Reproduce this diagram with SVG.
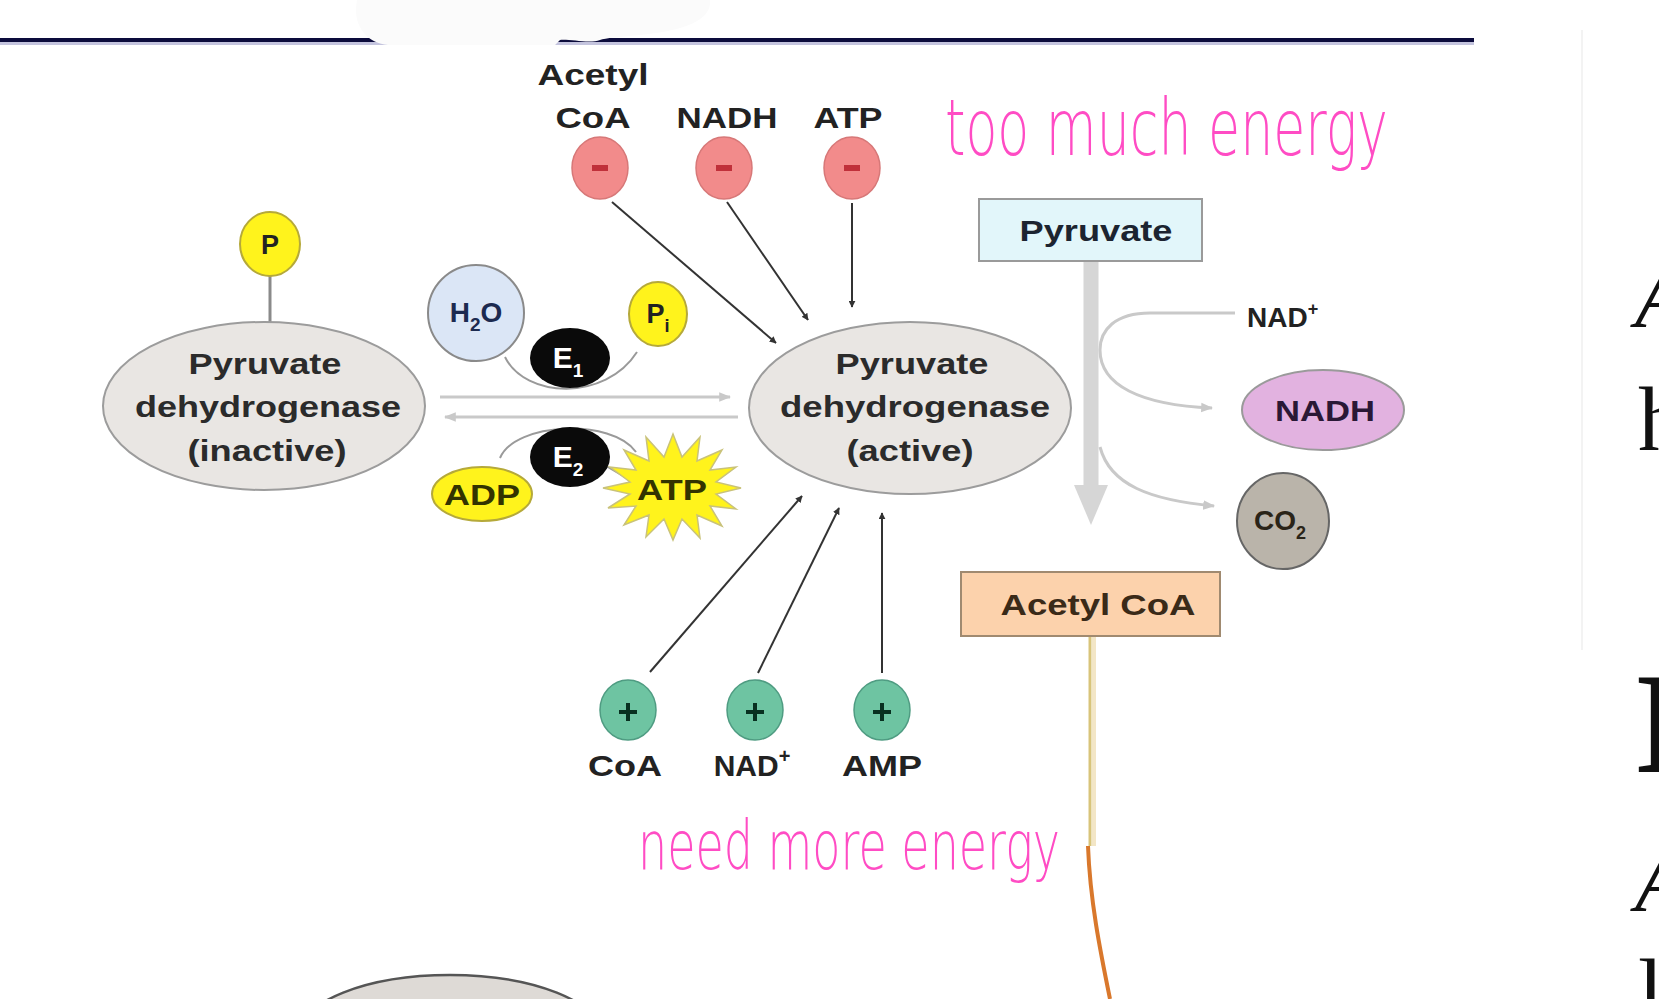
<svg xmlns="http://www.w3.org/2000/svg" width="1659" height="999" viewBox="0 0 1659 999">
<defs>
<style>
.lbl{font-family:"Liberation Sans",Arial,sans-serif;font-weight:bold;fill:#222;text-anchor:middle}
.enz{font-family:"Liberation Sans",Arial,sans-serif;font-weight:bold;fill:#2b2b2b;font-size:30px;text-anchor:middle}
.hand{font-family:"DejaVu Sans ExtraLight","DejaVu Sans",sans-serif;font-weight:200;fill:#ff4cc4}
.serif{font-family:"Liberation Serif","Times New Roman",serif;fill:#111}
.dark{stroke:#333;stroke-width:2;fill:none}
.pale{stroke:#c9c9c9;stroke-width:3;fill:none}
.minus{fill:#f28b8b;stroke:#d77878;stroke-width:1.5}
.plus{fill:#6ec4a2;stroke:#4f9c82;stroke-width:1.5}
.yel{fill:#fff31c;stroke:#b5a93a;stroke-width:2}
</style>
<marker id="ah" viewBox="0 0 10 10" refX="9" refY="5" markerWidth="7" markerHeight="7" orient="auto" markerUnits="userSpaceOnUse">
<path d="M0,0 L10,5 L0,10 Z" fill="#333"/>
</marker>
<marker id="ahp" viewBox="0 0 10 10" refX="9" refY="5" markerWidth="12" markerHeight="12" orient="auto" markerUnits="userSpaceOnUse">
<path d="M0,1 L10,5 L0,9 Z" fill="#c9c9c9"/>
</marker>
</defs>
<rect width="1659" height="999" fill="#ffffff"/>

<!-- slide header line -->
<g id="header">
<rect x="0" y="38" width="1474" height="4" fill="#0c0c3c"/>
<rect x="0" y="42" width="1474" height="3" fill="#c4c4de"/>
<path d="M357 0 L710 0 C712 18 690 30 640 35 C620 37 605 38 600 40 C590 44 570 39 560 40 L555 45 L388 45 C366 43 352 25 357 0 Z" fill="#fbfbfb"/>
<line x1="1582" y1="30" x2="1582" y2="650" stroke="#f3f3f3" stroke-width="2"/>
</g>

<!-- connectors -->
<g id="connectors">
<line x1="270" y1="276" x2="270" y2="322" stroke="#8a8a8a" stroke-width="3"/>
<line x1="612" y1="202" x2="776" y2="343" class="dark" marker-end="url(#ah)"/>
<line x1="727" y1="202" x2="808" y2="320" class="dark" marker-end="url(#ah)"/>
<line x1="852" y1="203" x2="852" y2="307" class="dark" marker-end="url(#ah)"/>
<line x1="650" y1="672" x2="802" y2="496" class="dark" marker-end="url(#ah)"/>
<line x1="758" y1="673" x2="839" y2="508" class="dark" marker-end="url(#ah)"/>
<line x1="882" y1="673" x2="882" y2="513" class="dark" marker-end="url(#ah)"/>
<line x1="440" y1="397" x2="730" y2="397" class="pale" marker-end="url(#ahp)"/>
<line x1="738" y1="417" x2="445" y2="417" class="pale" marker-end="url(#ahp)"/>
<path d="M505 357 C525 398 605 402 637 352" stroke="#9a9a9a" stroke-width="2" fill="none"/>
<path d="M500 458 C515 422 612 418 636 452" stroke="#9a9a9a" stroke-width="2" fill="none"/>
<line x1="606" y1="466" x2="630" y2="480" stroke="#9a9a9a" stroke-width="2"/>
<line x1="1091" y1="261" x2="1091" y2="490" stroke="#d6d6d6" stroke-width="15"/>
<polygon points="1074,485 1108,485 1091,525" fill="#d6d6d6"/>
<path d="M1235 313 L1150 313 C1115 313 1100 330 1100 350 C1100 385 1140 405 1212 408" class="pale" marker-end="url(#ahp)"/>
<path d="M1100 447 C1110 485 1150 500 1214 506" class="pale" marker-end="url(#ahp)"/>
<line x1="1094" y1="636" x2="1094" y2="846" stroke="#f3e6c6" stroke-width="4"/>
<line x1="1090" y1="636" x2="1090" y2="846" stroke="#d8c47a" stroke-width="3"/>
<path d="M1088 846 C1090 900 1100 950 1110 999" stroke="#d9782c" stroke-width="4" fill="none"/>
</g>

<g id="phosphate">
<ellipse cx="270" cy="244" rx="30" ry="32" class="yel"/>
<text x="270" y="254" class="lbl" font-size="27">P</text>
</g>

<g id="pdh-inactive">
<ellipse cx="264" cy="406" rx="161" ry="84" fill="#e9e6e3" stroke="#9c9c9c" stroke-width="2"/>
<text x="265" y="374" class="enz" textLength="153" lengthAdjust="spacingAndGlyphs">Pyruvate</text>
<text x="268" y="417" class="enz" textLength="266" lengthAdjust="spacingAndGlyphs">dehydrogenase</text>
<text x="267" y="461" class="enz" textLength="159" lengthAdjust="spacingAndGlyphs">(inactive)</text>
</g>

<g id="pdh-active">
<ellipse cx="910" cy="408" rx="161" ry="86" fill="#e9e6e3" stroke="#9c9c9c" stroke-width="2"/>
<text x="912" y="374" class="enz" textLength="153" lengthAdjust="spacingAndGlyphs">Pyruvate</text>
<text x="915" y="417" class="enz" textLength="270" lengthAdjust="spacingAndGlyphs">dehydrogenase</text>
<text x="910" y="461" class="enz" textLength="127" lengthAdjust="spacingAndGlyphs">(active)</text>
</g>

<g id="h2o">
<circle cx="476" cy="313" r="48" fill="#dbe6f6" stroke="#8a8a8a" stroke-width="2"/>
<text x="476" y="322" class="lbl" font-size="28" style="fill:#1c2a50">H<tspan font-size="19" dy="9">2</tspan><tspan dy="-9">O</tspan></text>
</g>

<g id="pi">
<ellipse cx="658" cy="314" rx="29" ry="32" class="yel"/>
<text x="658" y="323" class="lbl" font-size="27">P<tspan font-size="18" dy="9">i</tspan></text>
</g>

<g id="e1">
<ellipse cx="570" cy="358" rx="40" ry="30" fill="#0a0a0a"/>
<text x="568" y="368" class="lbl" font-size="30" style="fill:#fff">E<tspan font-size="19" dy="9">1</tspan></text>
</g>

<g id="e2">
<ellipse cx="570" cy="457" rx="40" ry="30" fill="#0a0a0a"/>
<text x="568" y="467" class="lbl" font-size="30" style="fill:#fff">E<tspan font-size="19" dy="9">2</tspan></text>
</g>

<g id="adp">
<ellipse cx="482" cy="494" rx="50" ry="27" class="yel"/>
<text x="482" y="505" class="lbl" font-size="29" textLength="76" lengthAdjust="spacingAndGlyphs" style="fill:#333300">ADP</text>
</g>

<g id="atp-star">
<polygon points="741,488 716,494 736,509 710,506 722,526 697,515 700,538 682,519 673,540 664,519 646,537 649,515 624,525 636,506 608,508 630,494 603,488 630,482 610,467 636,470 624,450 649,461 646,437 664,457 673,434 682,457 700,437 697,461 722,450 710,470 736,467 716,482" fill="#fff31c" stroke="#c9c27a" stroke-width="1.5"/>
<text x="672" y="500" class="lbl" font-size="29" textLength="70" lengthAdjust="spacingAndGlyphs" style="fill:#333300">ATP</text>
</g>

<g id="inhib-acetylcoa">
<text x="593" y="85" class="lbl" font-size="30" textLength="111" lengthAdjust="spacingAndGlyphs">Acetyl</text>
<text x="593" y="128" class="lbl" font-size="30" textLength="75" lengthAdjust="spacingAndGlyphs">CoA</text>
<ellipse cx="600" cy="168" rx="28" ry="31" class="minus"/>
<rect x="592" y="165" width="16" height="6" fill="#c0303a"/>
</g>
<g id="inhib-nadh">
<text x="727" y="128" class="lbl" font-size="30" textLength="101" lengthAdjust="spacingAndGlyphs">NADH</text>
<ellipse cx="724" cy="168" rx="28" ry="31" class="minus"/>
<rect x="716" y="165" width="16" height="6" fill="#c0303a"/>
</g>
<g id="inhib-atp">
<text x="848" y="128" class="lbl" font-size="30" textLength="69" lengthAdjust="spacingAndGlyphs">ATP</text>
<ellipse cx="852" cy="168" rx="28" ry="31" class="minus"/>
<rect x="844" y="165" width="16" height="6" fill="#c0303a"/>
</g>

<g id="act-coa">
<ellipse cx="628" cy="710" rx="28" ry="30" class="plus"/>
<path d="M619 712 H637 M628 703 V721" stroke="#083020" stroke-width="4"/>
<text x="625" y="776" class="lbl" font-size="30" textLength="74" lengthAdjust="spacingAndGlyphs">CoA</text>
</g>
<g id="act-nad">
<ellipse cx="755" cy="710" rx="28" ry="30" class="plus"/>
<path d="M746 712 H764 M755 703 V721" stroke="#083020" stroke-width="4"/>
<text x="752" y="776" class="lbl" font-size="30">NAD<tspan font-size="20" dy="-13">+</tspan></text>
</g>
<g id="act-amp">
<ellipse cx="882" cy="710" rx="28" ry="30" class="plus"/>
<path d="M873 712 H891 M882 703 V721" stroke="#083020" stroke-width="4"/>
<text x="882" y="776" class="lbl" font-size="30" textLength="80" lengthAdjust="spacingAndGlyphs">AMP</text>
</g>

<g id="pyruvate">
<rect x="979" y="199" width="223" height="62" fill="#e2f6fa" stroke="#9a9a9a" stroke-width="2"/>
<text x="1096" y="241" class="lbl" font-size="30" textLength="153" lengthAdjust="spacingAndGlyphs" style="fill:#1c2430">Pyruvate</text>
</g>

<g id="nad-plus">
<text x="1247" y="327" class="lbl" font-size="28" style="text-anchor:start">NAD<tspan font-size="18" dy="-12">+</tspan></text>
</g>

<g id="nadh">
<ellipse cx="1323" cy="410" rx="81" ry="40" fill="#e2b2e0" stroke="#9a9a9a" stroke-width="2"/>
<text x="1325" y="421" class="lbl" font-size="30" textLength="100" lengthAdjust="spacingAndGlyphs" style="fill:#2a1836">NADH</text>
</g>

<g id="co2">
<ellipse cx="1283" cy="521" rx="46" ry="48" fill="#bab4aa" stroke="#666" stroke-width="2"/>
<text x="1280" y="530" class="lbl" font-size="28" style="fill:#2a2418">CO<tspan font-size="18" dy="9">2</tspan></text>
</g>

<g id="acetyl-coa">
<rect x="961" y="572" width="259" height="64" fill="#fcd2ac" stroke="#a08a70" stroke-width="2"/>
<text x="1098" y="615" class="lbl" font-size="30" textLength="195" lengthAdjust="spacingAndGlyphs" style="fill:#3a2a18">Acetyl CoA</text>
</g>

<g id="bottom-ellipse">
<ellipse cx="450" cy="1035" rx="151" ry="60" fill="#dedad6" stroke="#555" stroke-width="2.5"/>
</g>

<g id="notes">
<text x="945" y="155" class="hand" font-size="78" textLength="443" lengthAdjust="spacingAndGlyphs">too much energy</text>
<text x="638" y="869" class="hand" font-size="68" textLength="422" lengthAdjust="spacingAndGlyphs">need more energy</text>
</g>

<g id="slide-text">
<text x="1635" y="326" class="serif" font-size="88" font-style="italic">A</text>
<text x="1638" y="450" class="serif" font-size="92">h</text>
<text x="1634" y="772" class="serif" font-size="143" font-weight="bold">I</text>
<text x="1635" y="910" class="serif" font-size="88" font-style="italic">A</text>
<text x="1638" y="1022" class="serif" font-size="92">l</text>
</g>
</svg>
